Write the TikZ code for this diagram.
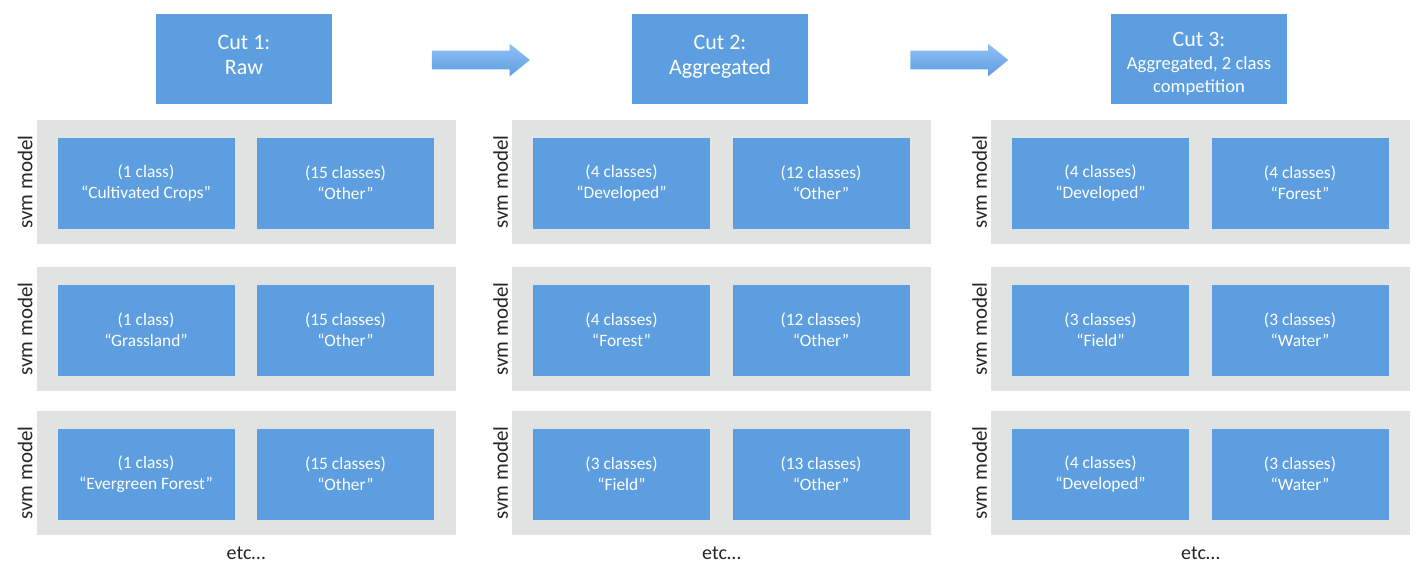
\documentclass[tikz,border=0pt]{standalone}
\usepackage{fontspec}
\setmainfont{Carlito}
\usetikzlibrary{calc}
\usetikzlibrary{shapes.arrows}

\definecolor{cutblue}{HTML}{5C9EE0}
\definecolor{panelgray}{HTML}{E1E2E2}
\definecolor{arrowlight}{HTML}{92C0F6}
\definecolor{labelgray}{HTML}{262626}

\tikzset{
    cutbox/.style={fill=cutblue, text=white, minimum width=88pt, minimum height=45pt,
        inner sep=0pt, align=center, text depth=4.3pt, font=\fontsize{11}{12.5}\selectfont},
    panel/.style={fill=panelgray, minimum width=209.5pt, minimum height=62pt, inner sep=0pt},
    classbox/.style={fill=cutblue, text=white, minimum width=88.5pt, minimum height=45.5pt,
        inner sep=0pt, align=center, font=\fontsize{8.7}{10.5}\selectfont},
    svmlabel/.style={rotate=90, inner sep=0pt, text=labelgray, font=\fontsize{10.5}{12}\selectfont},
    etclabel/.style={inner sep=0pt, text=labelgray, font=\fontsize{10}{12}\selectfont},
    flowarrow/.style={single arrow, single arrow head extend=3.5pt, single arrow head indent=0pt,
        single arrow tip angle=78, minimum height=49pt, inner xsep=0pt, inner ysep=4.5pt,
        top color=arrowlight, bottom color=cutblue}
}

\begin{document}
\begin{tikzpicture}[x=0.5pt, y=-0.5pt]
    \useasboundingbox (0,0) rectangle (1416,563);

    % the three cuts
    \node[cutbox] (cut1) at (244,59) {Cut 1:\\Raw};
    \node[cutbox] (cut2) at (720,59) {Cut 2:\\Aggregated};
    \node[cutbox, text height=35.5pt, text depth=2pt, font=\fontsize{9.3}{11.5}\selectfont] (cut3) at (1199,59)
        {{\fontsize{11}{11.5}\selectfont Cut 3:}\\Aggregated, 2 class\\competition};

    \node[flowarrow] (arrow12) at ($ (cut1.east)!0.5!(cut2.west)+(-7,1) $) {};
    \node[flowarrow] (arrow23) at ($ (cut2.east)!0.5!(cut3.west)+(-6,1) $) {};

    % one svm model per panel
    \foreach \c/\px/\r/\py/\lt/\rt in {
        1/246/1/182/{(1 class)\\“Cultivated Crops”}/{(15 classes)\\“Other”},
        1/246/2/329/{(1 class)\\“Grassland”}/{(15 classes)\\“Other”},
        1/246/3/473/{(1 class)\\“Evergreen Forest”}/{(15 classes)\\“Other”},
        2/721.5/1/182/{(4 classes)\\“Developed”}/{(12 classes)\\“Other”},
        2/721.5/2/329/{(4 classes)\\“Forest”}/{(12 classes)\\“Other”},
        2/721.5/3/473/{(3 classes)\\“Field”}/{(13 classes)\\“Other”},
        3/1200.5/1/182/{(4 classes)\\“Developed”}/{(4 classes)\\“Forest”},
        3/1200.5/2/329/{(3 classes)\\“Field”}/{(3 classes)\\“Water”},
        3/1200.5/3/473/{(4 classes)\\“Developed”}/{(3 classes)\\“Water”}}
    {
        \node[panel] (panel\c\r) at (\px,\py) {};
        \node[classbox] (cls\c\r-l) at ($ (panel\c\r.center)+(-100,1) $) {\lt};
        \node[classbox] (cls\c\r-r) at ($ (panel\c\r.center)+(99.5,1) $) {\rt};
        \node[svmlabel] (svm\c\r) at ($ (panel\c\r.west)+(-11,0) $) {svm model};
    }

    \node[etclabel] (etc1) at ($ (panel13.south)+(0,18) $) {etc…};
    \node[etclabel] (etc2) at ($ (panel23.south)+(0,18) $) {etc…};
    \node[etclabel] (etc3) at ($ (panel33.south)+(0,18) $) {etc…};
\end{tikzpicture}
\end{document}
